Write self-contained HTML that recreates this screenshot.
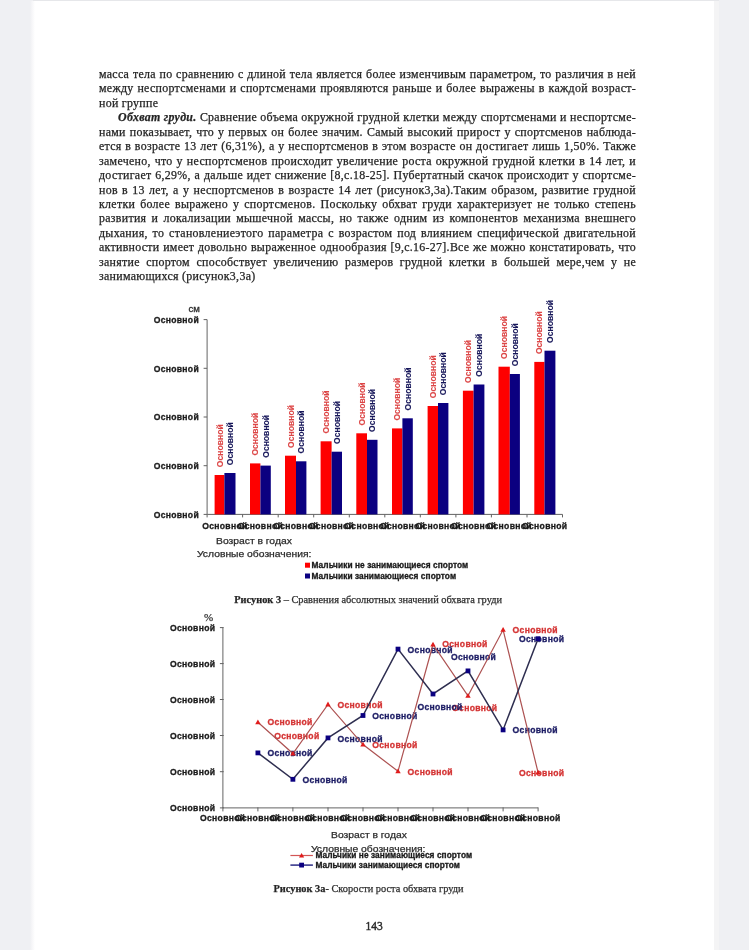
<!DOCTYPE html>
<html lang="ru"><head><meta charset="utf-8"><title>page 143</title>
<style>
html,body{margin:0;padding:0;}
body{width:749px;height:950px;position:relative;overflow:hidden;background:#eff0f3;font-family:"Liberation Serif",serif;color:#1c1c1c;}
#paper{position:absolute;left:30px;top:1px;width:684px;height:949px;background:linear-gradient(to right,#eff0f3 0,#f6f6f8 2px,#fff 5px,#fff 684px);}
#edgeR{position:absolute;left:714px;top:0;width:5px;height:950px;background:#f4f4f5;}
#topl{position:absolute;left:33px;top:0;width:686px;height:1px;background:#e6e7ea;}
.ln{position:absolute;left:99px;width:537px;height:14.47px;line-height:14.47px;font-size:11.90px;white-space:nowrap;text-align:justify;text-align-last:justify;color:#242424;-webkit-text-stroke:0.25px #242424;letter-spacing:0.3px;}
.ln.l{text-align:left;text-align-last:left;}
.ln.ji{left:118px;width:518px;}
.cap{position:absolute;white-space:nowrap;font-size:10.35px;line-height:12px;color:#303030;-webkit-text-stroke:0.25px #303030;}
.cap b{color:#222;}
.sans{font-family:"Liberation Sans",sans-serif;}
.ax{position:absolute;white-space:nowrap;font-family:"Liberation Sans",sans-serif;font-size:9.1px;letter-spacing:0;line-height:11px;color:#2c2c2c;-webkit-text-stroke:0.25px #2c2c2c;transform:scaleX(1.135);transform-origin:0 5px;}
.lg{position:absolute;white-space:nowrap;font-family:"Liberation Sans",sans-serif;font-weight:bold;font-size:8.3px;letter-spacing:0.08px;line-height:10px;color:#1a1a1a;-webkit-text-stroke:0.3px #1a1a1a;}
svg{position:absolute;left:0;top:0;}
#content{position:absolute;left:0;top:0;width:749px;height:950px;filter:blur(0.45px);}
svg text{font-family:"Liberation Sans",sans-serif;font-weight:bold;font-size:8.6px;letter-spacing:0.3px;stroke-width:0.3px;}
svg text.r{letter-spacing:0;stroke-width:0.08px;}
</style></head><body>
<div id="paper"></div><div id="edgeR"></div><div id="topl"></div>
<div id="content">

<div class="ln" style="top:66.77px">масса тела по сравнению с длиной тела является более изменчивым параметром, то различия в ней</div>
<div class="ln" style="top:81.23px">между неспортсменами и спортсменами проявляются раньше и более выражены в каждой возраст-</div>
<div class="ln l" style="top:95.70px">ной группе</div>
<div class="ln ji" style="top:110.17px"><b><i>Обхват груди.</i></b> Сравнение объема окружной грудной клетки между спортсменами и неспортсме-</div>
<div class="ln" style="top:124.64px">нами показывает, что у первых он более значим. Самый высокий прирост у спортсменов наблюда-</div>
<div class="ln" style="top:139.12px">ется в возрасте 13 лет (6,31%), а у неспортсменов в этом возрасте он достигает лишь 1,50%. Также</div>
<div class="ln" style="top:153.58px">замечено, что у неспортсменов происходит увеличение роста окружной грудной клетки в 14 лет, и</div>
<div class="ln" style="top:168.06px">достигает 6,29%, а дальше идет снижение [8,с.18-25]. Пубертатный скачок происходит у спортсме-</div>
<div class="ln" style="top:182.52px">нов в 13 лет, а у неспортсменов в возрасте 14 лет (рисунок3,3а).Таким образом, развитие грудной</div>
<div class="ln" style="top:197.00px">клетки более выражено у спортсменов. Поскольку обхват груди характеризует не только степень</div>
<div class="ln" style="top:211.47px">развития и локализации мышечной массы, но также одним из компонентов механизма внешнего</div>
<div class="ln" style="top:225.94px">дыхания, то становлениеэтого параметра с возрастом под влиянием специфической двигательной</div>
<div class="ln" style="top:240.41px">активности имеет довольно выраженное однообразия [9,с.16-27].Все же можно констатировать, что</div>
<div class="ln" style="top:254.88px">занятие спортом способствует увеличению размеров грудной клетки в большей мере,чем у не</div>
<div class="ln l" style="top:269.35px">занимающихся (рисунок3,3а)</div>
<svg width="749" height="950" viewBox="0 0 749 950">
<g stroke="#636363" stroke-width="1" fill="none">
<path d="M207.1 319.6 V514.4 H562.5"/>
<path d="M203.6 319.6 H207.1"/>
<path d="M203.6 368.3 H207.1"/>
<path d="M203.6 417.0 H207.1"/>
<path d="M203.6 465.7 H207.1"/>
<path d="M203.6 514.4 H207.1"/>
<path d="M207.1 514.4 V517.4"/>
<path d="M242.6 514.4 V517.4"/>
<path d="M278.2 514.4 V517.4"/>
<path d="M313.7 514.4 V517.4"/>
<path d="M349.3 514.4 V517.4"/>
<path d="M384.8 514.4 V517.4"/>
<path d="M420.3 514.4 V517.4"/>
<path d="M455.9 514.4 V517.4"/>
<path d="M491.4 514.4 V517.4"/>
<path d="M527.0 514.4 V517.4"/>
<path d="M562.5 514.4 V517.4"/>
</g>
<rect x="214.6" y="475.0" width="9.8" height="39.4" fill="#fe0000"/>
<rect x="224.4" y="473.0" width="11.1" height="41.4" fill="#0b0080"/>
<rect x="250.0" y="463.4" width="10.4" height="51.0" fill="#fe0000"/>
<rect x="260.4" y="465.6" width="10.4" height="48.8" fill="#0b0080"/>
<rect x="285.0" y="455.7" width="11.0" height="58.7" fill="#fe0000"/>
<rect x="296.0" y="461.3" width="10.4" height="53.1" fill="#0b0080"/>
<rect x="320.6" y="441.3" width="11.0" height="73.1" fill="#fe0000"/>
<rect x="331.6" y="451.7" width="10.4" height="62.7" fill="#0b0080"/>
<rect x="356.3" y="433.3" width="10.7" height="81.1" fill="#fe0000"/>
<rect x="367.0" y="439.8" width="10.5" height="74.6" fill="#0b0080"/>
<rect x="392.0" y="428.4" width="10.4" height="86.0" fill="#fe0000"/>
<rect x="402.4" y="418.3" width="10.4" height="96.1" fill="#0b0080"/>
<rect x="427.6" y="406.0" width="10.4" height="108.4" fill="#fe0000"/>
<rect x="438.0" y="403.0" width="10.4" height="111.4" fill="#0b0080"/>
<rect x="462.9" y="390.7" width="10.7" height="123.7" fill="#fe0000"/>
<rect x="473.6" y="384.5" width="10.8" height="129.9" fill="#0b0080"/>
<rect x="498.5" y="366.7" width="11.3" height="147.7" fill="#fe0000"/>
<rect x="509.8" y="374.0" width="10.1" height="140.4" fill="#0b0080"/>
<rect x="534.3" y="361.9" width="10.2" height="152.5" fill="#fe0000"/>
<rect x="544.5" y="350.7" width="10.9" height="163.7" fill="#0b0080"/>
<text transform="translate(222.5 467.2) rotate(-90)" class="r" fill="#dc4646" stroke="#dc4646">Основной</text>
<text transform="translate(232.9 465.2) rotate(-90)" class="r" fill="#17175a" stroke="#17175a">Основной</text>
<text transform="translate(258.2 455.6) rotate(-90)" class="r" fill="#dc4646" stroke="#dc4646">Основной</text>
<text transform="translate(268.6 457.8) rotate(-90)" class="r" fill="#17175a" stroke="#17175a">Основной</text>
<text transform="translate(293.5 447.9) rotate(-90)" class="r" fill="#dc4646" stroke="#dc4646">Основной</text>
<text transform="translate(304.2 453.5) rotate(-90)" class="r" fill="#17175a" stroke="#17175a">Основной</text>
<text transform="translate(329.1 433.5) rotate(-90)" class="r" fill="#dc4646" stroke="#dc4646">Основной</text>
<text transform="translate(339.8 443.9) rotate(-90)" class="r" fill="#17175a" stroke="#17175a">Основной</text>
<text transform="translate(364.6 425.5) rotate(-90)" class="r" fill="#dc4646" stroke="#dc4646">Основной</text>
<text transform="translate(375.2 432.0) rotate(-90)" class="r" fill="#17175a" stroke="#17175a">Основной</text>
<text transform="translate(400.2 420.6) rotate(-90)" class="r" fill="#dc4646" stroke="#dc4646">Основной</text>
<text transform="translate(410.6 410.5) rotate(-90)" class="r" fill="#17175a" stroke="#17175a">Основной</text>
<text transform="translate(435.8 398.2) rotate(-90)" class="r" fill="#dc4646" stroke="#dc4646">Основной</text>
<text transform="translate(446.2 395.2) rotate(-90)" class="r" fill="#17175a" stroke="#17175a">Основной</text>
<text transform="translate(471.2 382.9) rotate(-90)" class="r" fill="#dc4646" stroke="#dc4646">Основной</text>
<text transform="translate(482.0 376.7) rotate(-90)" class="r" fill="#17175a" stroke="#17175a">Основной</text>
<text transform="translate(507.1 358.9) rotate(-90)" class="r" fill="#dc4646" stroke="#dc4646">Основной</text>
<text transform="translate(517.9 366.2) rotate(-90)" class="r" fill="#17175a" stroke="#17175a">Основной</text>
<text transform="translate(542.4 354.1) rotate(-90)" class="r" fill="#dc4646" stroke="#dc4646">Основной</text>
<text transform="translate(553.0 342.9) rotate(-90)" class="r" fill="#17175a" stroke="#17175a">Основной</text>
<text x="199.0" y="322.8" text-anchor="end" fill="#1a1a1a" stroke="#1a1a1a">Основной</text>
<text x="199.0" y="371.5" text-anchor="end" fill="#1a1a1a" stroke="#1a1a1a">Основной</text>
<text x="199.0" y="420.2" text-anchor="end" fill="#1a1a1a" stroke="#1a1a1a">Основной</text>
<text x="199.0" y="468.9" text-anchor="end" fill="#1a1a1a" stroke="#1a1a1a">Основной</text>
<text x="199.0" y="517.6" text-anchor="end" fill="#1a1a1a" stroke="#1a1a1a">Основной</text>
<text x="224.9" y="528.8" text-anchor="middle" fill="#1a1a1a" stroke="#1a1a1a">Основной</text>
<text x="260.4" y="528.8" text-anchor="middle" fill="#1a1a1a" stroke="#1a1a1a">Основной</text>
<text x="295.9" y="528.8" text-anchor="middle" fill="#1a1a1a" stroke="#1a1a1a">Основной</text>
<text x="331.5" y="528.8" text-anchor="middle" fill="#1a1a1a" stroke="#1a1a1a">Основной</text>
<text x="367.0" y="528.8" text-anchor="middle" fill="#1a1a1a" stroke="#1a1a1a">Основной</text>
<text x="402.6" y="528.8" text-anchor="middle" fill="#1a1a1a" stroke="#1a1a1a">Основной</text>
<text x="438.1" y="528.8" text-anchor="middle" fill="#1a1a1a" stroke="#1a1a1a">Основной</text>
<text x="473.6" y="528.8" text-anchor="middle" fill="#1a1a1a" stroke="#1a1a1a">Основной</text>
<text x="509.2" y="528.8" text-anchor="middle" fill="#1a1a1a" stroke="#1a1a1a">Основной</text>
<text x="544.7" y="528.8" text-anchor="middle" fill="#1a1a1a" stroke="#1a1a1a">Основной</text>
<text x="188.4" y="312.1" fill="#2a2a2a" stroke="#2a2a2a" stroke-width="0.25" style="font-weight:normal;font-size:9.6px;letter-spacing:0">см</text>
<rect x="305" y="562.7" width="5" height="5" fill="#fe0000"/>
<rect x="305" y="573.5" width="5" height="5" fill="#0b0080"/>
<g stroke="#636363" stroke-width="1" fill="none">
<path d="M222.9 627.6 V807.9 H538.1"/>
<path d="M219.9 627.6 H223.7"/>
<path d="M219.9 663.6 H223.7"/>
<path d="M219.9 699.5 H223.7"/>
<path d="M219.9 735.5 H223.7"/>
<path d="M219.9 771.7 H223.7"/>
<path d="M219.9 807.9 H223.7"/>
<path d="M222.9 807.4 V811.4"/>
<path d="M257.9 807.4 V811.4"/>
<path d="M292.9 807.4 V811.4"/>
<path d="M328.0 807.4 V811.4"/>
<path d="M363.0 807.4 V811.4"/>
<path d="M398.0 807.4 V811.4"/>
<path d="M433.0 807.4 V811.4"/>
<path d="M468.0 807.4 V811.4"/>
<path d="M503.1 807.4 V811.4"/>
<path d="M538.1 807.4 V811.4"/>
</g>
<text x="267.4" y="725.4" fill="#d43434" stroke="#d43434">Основной</text>
<text x="274.2" y="739.2" fill="#d43434" stroke="#d43434">Основной</text>
<text x="337.5" y="707.6" fill="#d43434" stroke="#d43434">Основной</text>
<text x="372.3" y="748.2" fill="#d43434" stroke="#d43434">Основной</text>
<text x="407.6" y="774.5" fill="#d43434" stroke="#d43434">Основной</text>
<text x="442.3" y="647.4" fill="#d43434" stroke="#d43434">Основной</text>
<text x="452.1" y="710.7" fill="#d43434" stroke="#d43434">Основной</text>
<text x="512.6" y="633.0" fill="#d43434" stroke="#d43434">Основной</text>
<text x="519.0" y="775.8" fill="#d43434" stroke="#d43434">Основной</text>
<text x="267.4" y="756.1" fill="#1c1c64" stroke="#1c1c64">Основной</text>
<text x="302.4" y="782.8" fill="#1c1c64" stroke="#1c1c64">Основной</text>
<text x="337.5" y="741.7" fill="#1c1c64" stroke="#1c1c64">Основной</text>
<text x="372.3" y="719.2" fill="#1c1c64" stroke="#1c1c64">Основной</text>
<text x="407.6" y="652.9" fill="#1c1c64" stroke="#1c1c64">Основной</text>
<text x="417.4" y="709.8" fill="#1c1c64" stroke="#1c1c64">Основной</text>
<text x="450.9" y="660.2" fill="#1c1c64" stroke="#1c1c64">Основной</text>
<text x="512.6" y="733.4" fill="#1c1c64" stroke="#1c1c64">Основной</text>
<text x="519.0" y="641.9" fill="#1c1c64" stroke="#1c1c64">Основной</text>
<polyline fill="none" stroke="#ad5252" stroke-width="1.2" points="257.9,722.2 292.9,753.5 328.0,704.4 363.0,744.6 398.0,771.3 433.0,644.5 468.0,695.8 503.1,629.8 538.1,772.6"/>
<polyline fill="none" stroke="#2e2e50" stroke-width="1.5" points="257.9,752.9 292.9,779.3 328.0,737.9 363.0,715.5 398.0,649.1 433.0,694.0 468.0,670.9 503.1,729.9 538.1,638.7"/>
<path d="M257.9 719.4 l2.7 4.8 h-5.4 z" fill="#e01c1c"/>
<path d="M292.9 750.7 l2.7 4.8 h-5.4 z" fill="#e01c1c"/>
<path d="M328.0 701.6 l2.7 4.8 h-5.4 z" fill="#e01c1c"/>
<path d="M363.0 741.8 l2.7 4.8 h-5.4 z" fill="#e01c1c"/>
<path d="M398.0 768.5 l2.7 4.8 h-5.4 z" fill="#e01c1c"/>
<path d="M433.0 641.7 l2.7 4.8 h-5.4 z" fill="#e01c1c"/>
<path d="M468.0 693.0 l2.7 4.8 h-5.4 z" fill="#e01c1c"/>
<path d="M503.1 627.0 l2.7 4.8 h-5.4 z" fill="#e01c1c"/>
<path d="M538.1 769.8 l2.7 4.8 h-5.4 z" fill="#e01c1c"/>
<rect x="255.5" y="750.5" width="4.8" height="4.8" fill="#0b0080"/>
<rect x="290.5" y="776.9" width="4.8" height="4.8" fill="#0b0080"/>
<rect x="325.6" y="735.5" width="4.8" height="4.8" fill="#0b0080"/>
<rect x="360.6" y="713.1" width="4.8" height="4.8" fill="#0b0080"/>
<rect x="395.6" y="646.7" width="4.8" height="4.8" fill="#0b0080"/>
<rect x="430.6" y="691.6" width="4.8" height="4.8" fill="#0b0080"/>
<rect x="465.6" y="668.5" width="4.8" height="4.8" fill="#0b0080"/>
<rect x="500.7" y="727.5" width="4.8" height="4.8" fill="#0b0080"/>
<rect x="535.7" y="636.3" width="4.8" height="4.8" fill="#0b0080"/>
<text x="215.3" y="630.8" text-anchor="end" fill="#1a1a1a" stroke="#1a1a1a">Основной</text>
<text x="215.3" y="666.8" text-anchor="end" fill="#1a1a1a" stroke="#1a1a1a">Основной</text>
<text x="215.3" y="702.7" text-anchor="end" fill="#1a1a1a" stroke="#1a1a1a">Основной</text>
<text x="215.3" y="738.7" text-anchor="end" fill="#1a1a1a" stroke="#1a1a1a">Основной</text>
<text x="215.3" y="774.9" text-anchor="end" fill="#1a1a1a" stroke="#1a1a1a">Основной</text>
<text x="215.3" y="811.1" text-anchor="end" fill="#1a1a1a" stroke="#1a1a1a">Основной</text>
<text x="222.7" y="821.4" text-anchor="middle" fill="#1a1a1a" stroke="#1a1a1a">Основной</text>
<text x="257.7" y="821.4" text-anchor="middle" fill="#1a1a1a" stroke="#1a1a1a">Основной</text>
<text x="292.7" y="821.4" text-anchor="middle" fill="#1a1a1a" stroke="#1a1a1a">Основной</text>
<text x="327.8" y="821.4" text-anchor="middle" fill="#1a1a1a" stroke="#1a1a1a">Основной</text>
<text x="362.8" y="821.4" text-anchor="middle" fill="#1a1a1a" stroke="#1a1a1a">Основной</text>
<text x="397.8" y="821.4" text-anchor="middle" fill="#1a1a1a" stroke="#1a1a1a">Основной</text>
<text x="432.8" y="821.4" text-anchor="middle" fill="#1a1a1a" stroke="#1a1a1a">Основной</text>
<text x="467.8" y="821.4" text-anchor="middle" fill="#1a1a1a" stroke="#1a1a1a">Основной</text>
<text x="502.9" y="821.4" text-anchor="middle" fill="#1a1a1a" stroke="#1a1a1a">Основной</text>
<text x="537.9" y="821.4" text-anchor="middle" fill="#1a1a1a" stroke="#1a1a1a">Основной</text>
<path d="M290.4 855.5 H312.9" stroke="#d25555" stroke-width="1.2"/>
<path d="M301.6 852.9 l2.6 4.6 h-5.2 z" fill="#e01c1c"/>
<path d="M290.4 865.1 H312.9" stroke="#2c2c86" stroke-width="1.5"/>
<rect x="299.2" y="862.7" width="4.8" height="4.8" fill="#0b0080"/>
</svg>
<div class="ax" style="left:215.8px;top:535.9px">Возраст в годах</div>
<div class="ax" style="left:196.7px;top:548.7px">Условные обозначения:</div>
<div class="lg" style="left:311.5px;top:560.2px">Мальчики не занимающиеся спортом</div>
<div class="lg" style="left:311.5px;top:571px">Мальчики занимающиеся спортом</div>
<div class="cap" style="left:234.3px;top:593.6px"><b>Рисунок 3</b> – Сравнения абсолютных значений обхвата груди</div>
<div class="cap" style="left:203.9px;top:611.2px;font-size:11px;color:#2a2a2a">%</div>
<div class="ax" style="left:331.1px;top:830.4px">Возраст в годах</div>
<div class="ax" style="left:311.3px;top:843.6px">Условные обозначения:</div>
<div class="lg" style="left:315.4px;top:849.9px">Мальчики не занимающиеся спортом</div>
<div class="lg" style="left:315.4px;top:860.2px">Мальчики занимающиеся спортом</div>
<div class="cap" style="left:273.5px;top:882.5px"><b>Рисунок 3а-</b> Скорости роста обхвата груди</div>
<div class="cap" style="left:365.6px;top:919.6px;font-size:11.5px;line-height:13px;color:#2a2a2a;-webkit-text-stroke:0.4px #2a2a2a">143</div>
</div>
</body></html>
